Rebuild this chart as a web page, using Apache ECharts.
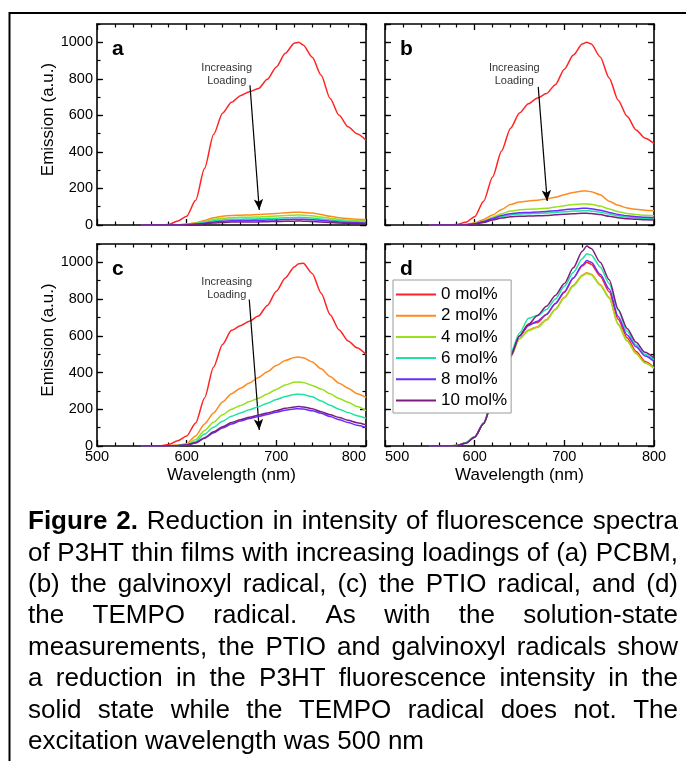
<!DOCTYPE html>
<html><head><meta charset="utf-8">
<script src="https://cdn.jsdelivr.net/npm/echarts@6/dist/echarts.min.js"></script>
<style>html,body{margin:0;padding:0;background:#fff}#c{width:686px;height:761px}</style>
</head><body><div id="c"></div><script>
// ---------- data ----------
const wavelengths = [550,560,570,580,590,600,610,620,630,640,650,660,670,680,690,700,710,720,725,730,740,750,760,770,780,790,800];
const seriesNames = ['0 mol%','2 mol%','4 mol%','6 mol%','8 mol%','10 mol%'];
const xTicks = [500,600,700,800];
const yTicks = [0,200,400,600,800,1000];

// panel a (PCBM)
const a_0  = [0,0,0,3,22,48,135,310,495,612,672,708,729,747,797,865,940,995,1000,985,918,820,692,600,538,500,464];
const a_2  = [0,0,0,0,1,5,12,25,40,48,52,54,55,57,60,63,67,70,70,69,65,57,48,40,35,32,30];
const a_4  = [0,0,0,0,1,4,9,19,31,37,40,42,43,44,46,49,52,54,55,54,50,44,37,31,27,24,22];
const a_6  = [0,0,0,0,1,3,7,14,23,28,31,32,33,34,35,37,39,41,42,41,38,33,28,23,20,18,16];
const a_8  = [0,0,0,0,0,2,5,10,17,21,23,24,25,26,27,28,30,31,32,31,29,25,21,17,14,12,11];
const a_10 = [0,0,0,0,0,1,3,7,11,14,16,16,17,17,18,19,20,21,22,21,19,16,13,11,9,8,7];
// panel b (galvinoxyl)
const b_0  = [0,0,0,3,15,45,130,263,405,530,613,663,695,719,768,853,930,990,1000,990,920,805,683,595,520,475,446];
const b_2  = [0,0,0,1,3,12,30,55,85,112,126,132,136,142,152,166,178,186,186,182,165,130,108,93,86,81,78];
const b_4  = [0,0,0,0,2,8,22,42,62,76,83,86,88,92,98,106,112,115,115,113,104,88,73,63,57,53,51];
const b_6  = [0,0,0,0,1,6,17,32,46,55,60,62,63,65,69,73,76,78,78,77,70,60,50,43,39,36,35];
const b_8  = [0,0,0,0,1,7,19,36,52,62,67,69,71,74,78,84,88,91,91,89,81,69,58,50,45,42,40];
const b_10 = [0,0,0,0,1,5,14,27,38,45,48,49,50,52,56,59,62,64,64,63,57,48,40,34,31,29,28];
// panel c (PTIO)
const c_0  = [0,0,1,8,28,55,125,262,430,553,630,655,680,708,765,843,915,975,993,995,940,832,715,632,572,535,498];
const c_2  = [0,0,0,2,5,12,55,120,180,240,285,315,343,373,405,438,466,482,484,480,458,420,378,342,315,285,264];
const c_4  = [0,0,0,1,3,8,35,85,130,170,200,220,242,260,283,308,332,347,348,346,330,310,284,258,238,215,193];
const c_6  = [0,0,0,1,2,7,25,65,102,135,162,180,197,214,233,253,270,281,282,280,268,245,222,200,182,165,151];
const c_8  = [0,0,0,1,2,5,16,42,72,98,120,136,150,160,172,184,195,202,203,201,192,178,160,143,128,113,100];
const c_10 = [0,0,0,1,2,6,18,45,77,105,128,143,156,168,180,192,205,213,215,213,203,187,170,155,140,127,115];
// panel d (TEMPO)
const d_0  = [0,0,0,3,18,51,125,250,380,495,600,665,672,716,776,836,915,980,1000,990,925,840,690,590,515,460,428];
const d_2  = [0,0,0,3,17,49,122,245,372,485,585,632,650,689,745,810,875,930,944,935,880,810,665,575,505,453,423];
const d_4  = [0,0,0,3,16,48,120,243,370,483,583,628,645,685,742,806,870,926,940,932,876,806,660,572,503,452,425];
const d_6  = [0,0,0,3,18,51,126,252,385,505,615,695,710,743,800,870,945,1020,1047,1040,975,885,740,625,550,500,470];
const d_8  = [0,0,0,2,15,48,122,245,375,490,598,655,680,716,775,840,915,985,1010,1000,935,855,705,605,540,490,461];
const d_10 = [0,0,0,2,15,48,122,245,375,490,600,662,710,761,820,885,970,1060,1089,1075,1000,905,745,640,565,510,479];

// annotation arrows (data coordinates: [wavelength, emission])
const arrowA = [[670.6,765],[681,82]];
const arrowB = [[670.9,756],[680.9,131]];
const arrowC = [[669.8,798],[681,87]];

const captionLines = [
  'Figure 2. Reduction in intensity of fluorescence spectra',
  'of P3HT thin films with increasing loadings of (a) PCBM,',
  '(b) the galvinoxyl radical, (c) the PTIO radical, and (d)',
  'the TEMPO radical. As with the solution-state',
  'measurements, the PTIO and galvinoxyl radicals show',
  'a reduction in the P3HT fluorescence intensity in the',
  'solid state while the TEMPO radical does not. The',
  'excitation wavelength was 500 nm'
];
const captionBold = 'Figure 2.';

// ---------- styling / layout ----------
const colors = ['#ff2424','#ff8a1f','#96e01c','#1ee3a0','#6a2cff','#7a1f80'];
const FONT = '"Liberation Sans", Arial, Helvetica, sans-serif';
const panels = [
  {letter:'a', data:[a_0,a_2,a_4,a_6,a_8,a_10], grid:{left:97, top:24, width:269, height:201}, xl:false, yl:true, arrow:arrowA, note:[226.7,74.3]},
  {letter:'b', data:[b_0,b_2,b_4,b_6,b_8,b_10], grid:{left:385, top:24, width:269, height:201}, xl:false, yl:false, arrow:arrowB, note:[514.3,74.3]},
  {letter:'c', data:[c_0,c_2,c_4,c_6,c_8,c_10], grid:{left:97, top:244, width:269, height:202}, xl:true, yl:true, arrow:arrowC, note:[226.7,288.3], alignMax:'right'},
  {letter:'d', data:[d_0,d_2,d_4,d_6,d_8,d_10], grid:{left:385, top:244, width:269, height:202}, xl:true, yl:false, arrow:null, note:null, alignMin:'left'}
];

const grids = [], xAxes = [], yAxes = [], series = [], graphics = [];
const lineBlack = {color:'#000', width:1.6};
panels.forEach((p, i) => {
  grids.push(Object.assign({containLabel:false, outerBoundsMode:'none'}, p.grid));
  ['bottom','top'].forEach(pos => {
    const lab = pos === 'bottom' && p.xl;
    const xl = {show:lab, margin:3, fontSize:14.5, color:'#000', fontFamily:FONT};
    if (p.alignMax) xl.alignMaxLabel = p.alignMax;
    if (p.alignMin) xl.alignMinLabel = p.alignMin;
    xAxes.push({
      gridIndex:i, type:'value', min:xTicks[0], max:xTicks[xTicks.length-1], interval:100, position:pos,
      axisLine:{show:true, onZero:false, lineStyle:lineBlack},
      axisTick:{show:true, inside:true, length:6, lineStyle:{color:'#000', width:1.3}},
      minorTick:{show:true, splitNumber:5, length:3.5, lineStyle:{color:'#000', width:1.2}},
      splitLine:{show:false}, minorSplitLine:{show:false},
      axisLabel:xl,
      name: lab ? 'Wavelength (nm)' : '', nameLocation:'middle', nameGap:21,
      nameTextStyle:{fontSize:17, color:'#000', fontFamily:FONT}
    });
  });
  ['left','right'].forEach(pos => {
    const lab = pos === 'left' && p.yl;
    yAxes.push({
      gridIndex:i, type:'value', min:0, max:1100, interval:200, position:pos,
      axisLine:{show:true, onZero:false, lineStyle:lineBlack},
      axisTick:{show:true, inside:true, length:6, lineStyle:{color:'#000', width:1.3}},
      splitLine:{show:false},
      axisLabel:{show:lab, margin:4, fontSize:14.5, color:'#000', fontFamily:FONT, showMaxLabel:false,
        formatter: v => yTicks.includes(v) ? String(v) : ''},
      name: lab ? 'Emission (a.u.)' : '', nameLocation:'middle', nameGap:35,
      nameTextStyle:{fontSize:17, color:'#000', fontFamily:FONT, padding:[0,0,0,10]}
    });
    yAxes.push({
      gridIndex:i, type:'value', min:0, max:1100, interval:100, position:pos,
      axisLine:{show:false}, axisLabel:{show:false}, splitLine:{show:false},
      axisTick:{show:true, inside:true, length:3.5, lineStyle:{color:'#000', width:1.2}}
    });
  });
  p.data.forEach((arr, k) => {
    const s = {
      type:'line', name:seriesNames[k], xAxisIndex:2*i, yAxisIndex:4*i,
      data: wavelengths.map((w, j) => [w, arr[j]]),
      symbol:'none', smooth:0.25, smoothMonotone:'x',
      lineStyle:{width:1.5, color:colors[k]}, itemStyle:{color:colors[k]},
      z: 2 + k, animation:false
    };
    if (k === 0 && p.arrow) {
      s.markLine = {
        silent:true, symbol:['none','arrow'], symbolSize:[7,11], animation:false,
        lineStyle:{color:'#000', width:1.2, type:'solid'}, label:{show:false},
        data:[[{coord:p.arrow[0]},{coord:p.arrow[1]}]]
      };
    }
    series.push(s);
  });
  graphics.push({type:'text', x:p.grid.left+15, y:p.grid.top+25.5, z:50,
    style:{text:p.letter, font:'bold 21px '+FONT, fill:'#000', textAlign:'left', textVerticalAlign:'middle'}});
  if (p.note) {
    graphics.push({type:'text', x:p.note[0], y:p.note[1], z:50,
      style:{text:'Increasing\nLoading', font:'11px '+FONT, lineHeight:13.3, fill:'#333', textAlign:'center', textVerticalAlign:'middle'}});
  }
});

// outer frame
graphics.push({type:'polyline', z:60, shape:{points:[[9.5,761],[9.5,13],[686,13]]}, style:{stroke:'#000', lineWidth:2, fill:null}});

// caption, justified line by line
const CAP_FS = 26, CAP_L = 28, CAP_R = 678, CAP_Y0 = 522, CAP_LH = 31.4;
const mctx = document.createElement('canvas').getContext('2d');
function w(text, bold) { mctx.font = (bold ? 'bold ' : '') + CAP_FS + 'px ' + FONT; return mctx.measureText(text).width; }
captionLines.forEach((line, li) => {
  const toks = line.split(' ').map(t => ({t, bold:false}));
  if (li === 0) { const nb = captionBold.split(' ').length; for (let q = 0; q < nb; q++) toks[q].bold = true; }
  const widths = toks.map(o => w(o.t, o.bold));
  const total = widths.reduce((s, v) => s + v, 0);
  const last = li === captionLines.length - 1;
  const gap = last ? w(' ', false) : (CAP_R - CAP_L - total) / (toks.length - 1);
  let x = CAP_L;
  toks.forEach((o, k) => {
    graphics.push({type:'text', x, y:CAP_Y0 + li*CAP_LH, z:50,
      style:{text:o.t, font:(o.bold ? 'bold ' : '') + CAP_FS + 'px ' + FONT, fill:'#000', textAlign:'left', textVerticalAlign:'middle'}});
    x += widths[k] + gap;
  });
});

const chart = echarts.init(document.getElementById('c'), null, {renderer:'canvas'});
chart.setOption({
  animation:false,
  backgroundColor:'#fff',
  grid:grids, xAxis:xAxes, yAxis:yAxes, series,
  legend:{
    data:seriesNames, orient:'vertical', left:393, top:280, padding:[6,4,4,3], itemGap:4.2,
    icon:'rect', itemWidth:40, itemHeight:2,
    backgroundColor:'#fff', borderColor:'#9a9a9a', borderWidth:1, borderRadius:0,
    textStyle:{fontSize:17, lineHeight:17, color:'#000', fontFamily:FONT},
    selectedMode:false, z:20
  },
  graphic:{elements:graphics}
});
</script></body></html>
